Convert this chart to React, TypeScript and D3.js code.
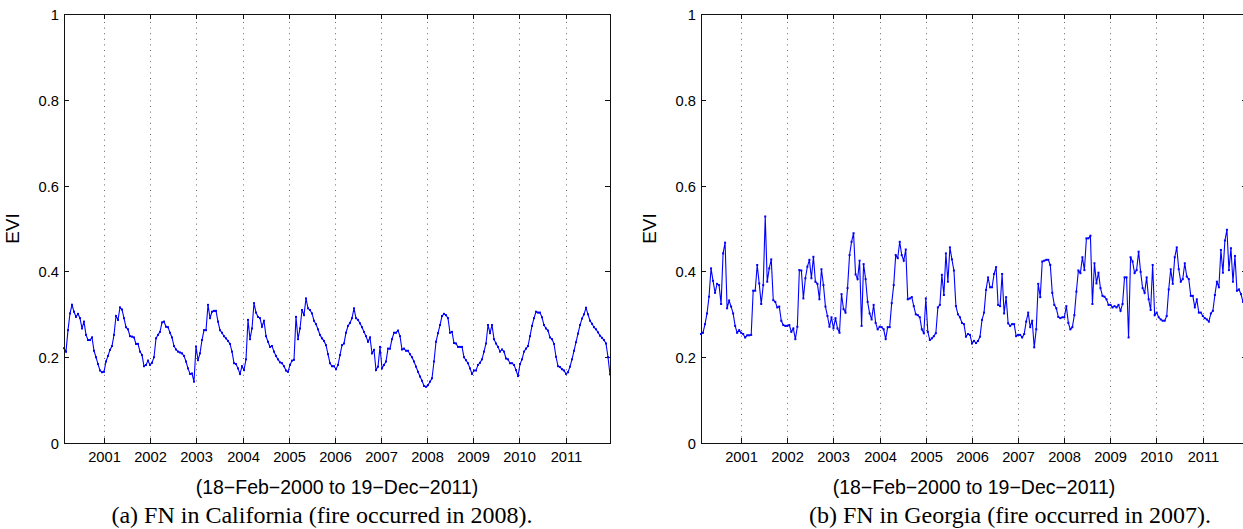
import React from "react";
import * as d3 from "d3";

// MODIS 16-day EVI composites, 18-Feb-2000 .. 19-Dec-2011
const startDate = new Date(Date.UTC(2000, 1, 18));
const endDate = new Date(Date.UTC(2011, 11, 19));

const yearTicks = [2001, 2002, 2003, 2004, 2005, 2006, 2007, 2008, 2009, 2010, 2011];
const yTicks = [0, 0.2, 0.4, 0.6, 0.8, 1];
const yTickLabels = ["0", "0.2", "0.4", "0.6", "0.8", "1"];
const rangeLabel = "(18\u2212Feb\u22122000 to 19\u2212Dec\u22122011)";
const yLabel = "EVI";

const californiaEvi = [
  0.221, 0.213, 0.263, 0.302, 0.322, 0.306, 0.294, 0.301, 0.291, 0.267,
  0.283, 0.252, 0.24, 0.24, 0.246, 0.215, 0.2, 0.184, 0.169, 0.165,
  0.166, 0.19, 0.203, 0.217, 0.226, 0.252, 0.296, 0.287, 0.316, 0.311,
  0.291, 0.27, 0.265, 0.249, 0.248, 0.246, 0.231, 0.231, 0.213, 0.205,
  0.179, 0.182, 0.192, 0.182, 0.187, 0.2, 0.244, 0.252, 0.259, 0.281,
  0.283, 0.271, 0.27, 0.257, 0.246, 0.226, 0.218, 0.213, 0.211, 0.209,
  0.203, 0.19, 0.174, 0.161, 0.162, 0.143, 0.225, 0.193, 0.209, 0.24,
  0.263, 0.263, 0.322, 0.291, 0.306, 0.308, 0.308, 0.283, 0.263, 0.257,
  0.249, 0.244, 0.238, 0.231, 0.213, 0.186, 0.184, 0.174, 0.161, 0.179,
  0.17, 0.195, 0.287, 0.242, 0.267, 0.326, 0.304, 0.294, 0.291, 0.271,
  0.285, 0.249, 0.236, 0.224, 0.226, 0.213, 0.203, 0.195, 0.188, 0.186,
  0.179, 0.169, 0.166, 0.182, 0.192, 0.194, 0.294, 0.242, 0.267, 0.31,
  0.298, 0.337, 0.314, 0.31, 0.302, 0.285, 0.277,
  0.265, 0.252, 0.244, 0.238, 0.228, 0.207, 0.186, 0.179, 0.179, 0.172,
  0.182, 0.205, 0.228, 0.232, 0.257, 0.273, 0.28, 0.291, 0.314, 0.291,
  0.287, 0.279, 0.27, 0.259, 0.249, 0.236, 0.246, 0.209, 0.217, 0.17,
  0.178, 0.224, 0.174, 0.182, 0.19, 0.22, 0.22, 0.242, 0.257, 0.257,
  0.262, 0.249, 0.218, 0.22, 0.215, 0.215, 0.207, 0.2, 0.19, 0.178,
  0.166, 0.155, 0.145, 0.133, 0.131, 0.135, 0.143, 0.151, 0.19, 0.236,
  0.256, 0.275, 0.296, 0.301, 0.298, 0.291, 0.257, 0.259, 0.233, 0.232,
  0.224, 0.224, 0.224, 0.2, 0.193, 0.186, 0.174, 0.161, 0.169, 0.169,
  0.182, 0.187, 0.195, 0.213, 0.232, 0.275, 0.256, 0.275, 0.242, 0.232,
  0.224, 0.213, 0.218, 0.213, 0.197, 0.195, 0.186, 0.186, 0.182, 0.17,
  0.156, 0.184, 0.195, 0.213, 0.22, 0.226, 0.249, 0.273, 0.291, 0.306,
  0.304, 0.304, 0.293, 0.275, 0.267, 0.262, 0.246, 0.242, 0.231, 0.201,
  0.179, 0.177, 0.172, 0.169, 0.161,
  0.165, 0.178, 0.195, 0.215, 0.235, 0.255, 0.275, 0.29, 0.3, 0.315,
  0.3, 0.285, 0.278, 0.27, 0.265, 0.258, 0.25, 0.245, 0.24, 0.232,
  0.2, 0.16,
];

const georgiaEvi = [
  0.254, 0.257, 0.277, 0.302, 0.341, 0.407, 0.378, 0.35, 0.371, 0.368,
  0.324, 0.442, 0.467, 0.314, 0.332, 0.318, 0.302, 0.273, 0.257, 0.263,
  0.257, 0.254, 0.246, 0.251, 0.251, 0.252, 0.355, 0.355, 0.415, 0.372,
  0.324, 0.368, 0.528, 0.376, 0.407, 0.428, 0.333, 0.329, 0.316, 0.318,
  0.285, 0.275, 0.273, 0.273, 0.275, 0.259, 0.267, 0.242, 0.271, 0.403,
  0.402, 0.337, 0.384, 0.411, 0.427, 0.384, 0.434, 0.376, 0.371, 0.335,
  0.405, 0.368, 0.318, 0.296, 0.271, 0.293, 0.267, 0.291, 0.267, 0.257,
  0.347, 0.312, 0.304, 0.361, 0.438, 0.469, 0.489, 0.393, 0.382, 0.425,
  0.273, 0.417, 0.382, 0.329, 0.302, 0.288, 0.322, 0.28, 0.265, 0.271,
  0.27, 0.265, 0.242, 0.27, 0.27, 0.326, 0.368, 0.438, 0.431, 0.469,
  0.438, 0.425, 0.451, 0.335, 0.337, 0.34, 0.319, 0.3, 0.298, 0.293,
  0.265, 0.256, 0.337, 0.259, 0.24, 0.244, 0.249, 0.256, 0.316, 0.322,
  0.392, 0.345, 0.442, 0.376, 0.456, 0.428, 0.402, 0.319, 0.3, 0.293,
  0.28, 0.277, 0.248, 0.254, 0.252, 0.232, 0.238, 0.233,
  0.238, 0.248, 0.287, 0.304, 0.357, 0.386, 0.363, 0.363, 0.394, 0.41,
  0.322, 0.319, 0.394, 0.302, 0.34, 0.279, 0.273, 0.277, 0.277, 0.249,
  0.252, 0.252, 0.246, 0.254, 0.283, 0.304, 0.27, 0.285, 0.223, 0.265,
  0.371, 0.34, 0.423, 0.425, 0.427, 0.427, 0.415, 0.35, 0.322, 0.314,
  0.294, 0.291, 0.293, 0.293, 0.319, 0.28, 0.265, 0.27, 0.298, 0.353,
  0.402, 0.396, 0.433, 0.403, 0.477, 0.477, 0.483, 0.324, 0.419, 0.372,
  0.397, 0.361, 0.343, 0.341, 0.335, 0.322, 0.322, 0.316, 0.319, 0.316,
  0.322, 0.308, 0.324, 0.386, 0.386, 0.246, 0.433, 0.423, 0.396, 0.403,
  0.446, 0.399, 0.361, 0.35, 0.386, 0.335, 0.31, 0.415, 0.298, 0.304,
  0.293, 0.288, 0.285, 0.285, 0.296, 0.358, 0.405, 0.371, 0.433, 0.456,
  0.405, 0.376, 0.382, 0.419, 0.388, 0.382, 0.343, 0.343, 0.316, 0.335,
  0.304, 0.304, 0.296, 0.291, 0.288, 0.283, 0.302, 0.308, 0.345, 0.376,
  0.363, 0.45, 0.397, 0.472, 0.497, 0.403, 0.454, 0.376, 0.436, 0.355,
  0.358, 0.347, 0.329, 0.332, 0.328,
];

const captions = [
  "(a) FN in California (fire occurred in 2008).",
  "(b) FN in Georgia (fire occurred in 2007).",
];

const W = 1243;
const H = 529;
const plotW = 546;
const top = 14;
const bottom = 443;
const sans = "'Liberation Sans', Arial, Helvetica, sans-serif";
const serif = "'Liberation Serif', 'Times New Roman', serif";

function Panel(props: { left: number; values: number[]; caption: string; captionX: number }) {
  const { left, values, caption, captionX } = props;
  const x = d3.scaleUtc().domain([startDate, endDate]).range([left, left + plotW]);
  const y = d3.scaleLinear().domain([0, 1]).range([bottom, top]);
  const step = (endDate.getTime() - startDate.getTime()) / (values.length - 1);
  const pts = values.map((v, i) => ({ d: new Date(startDate.getTime() + i * step), v }));
  const line = d3
    .line<{ d: Date; v: number }>()
    .x((p) => x(p.d))
    .y((p) => y(p.v));
  const right = left + plotW;
  const midX = left + plotW / 2;

  return (
    <g>
      {yearTicks.map((yr) => {
        const xx = Math.round(x(new Date(Date.UTC(yr, 0, 1)))) + 0.5;
        return (
          <g key={yr}>
            <line x1={xx} x2={xx} y1={bottom} y2={top} stroke="#555" strokeWidth={0.9} strokeDasharray="1 4.6" />
            <line x1={xx} x2={xx} y1={bottom} y2={bottom - 5} stroke="#111" />
            <line x1={xx} x2={xx} y1={top} y2={top + 5} stroke="#111" />
            <text x={xx} y={462} fontFamily={sans} fontSize={14.7} textAnchor="middle">
              {yr}
            </text>
          </g>
        );
      })}
      {yTicks.map((t, i) => {
        const yy = Math.round(y(t)) + 0.5;
        return (
          <g key={t}>
            <line x1={left} x2={left + 5} y1={yy} y2={yy} stroke="#111" />
            <line x1={right} x2={right - 5} y1={yy} y2={yy} stroke="#111" />
            <text x={left - 5} y={yy + 5} fontFamily={sans} fontSize={14.7} textAnchor="end">
              {yTickLabels[i]}
            </text>
          </g>
        );
      })}
      <path d={line(pts) || ""} fill="none" stroke="#0000ff" strokeWidth={1.1} />
      {pts.map((p, i) => (
        <rect key={i} x={x(p.d) - 1} y={y(p.v) - 1} width={2} height={2} fill="#0000ff" />
      ))}
      <rect x={left + 0.5} y={top + 0.5} width={plotW} height={bottom - top} fill="none" stroke="#111" strokeWidth={1} />
      <text
        transform={`translate(${left - 45},${(top + bottom) / 2}) rotate(-90)`}
        fontFamily={sans}
        fontSize={19}
        textAnchor="middle"
      >
        {yLabel}
      </text>
      <text x={midX} y={494} fontFamily={sans} fontSize={19.5} textAnchor="middle">
        {rangeLabel}
      </text>
      <text x={captionX} y={523} fontFamily={serif} fontSize={24} textAnchor="middle">
        {caption}
      </text>
    </g>
  );
}

export default function App() {
  return (
    <svg
      width={W}
      height={H}
      style={{ position: "absolute", left: 0, top: 0, background: "#fff" }}
    >
      <rect width={W} height={H} fill="#fff" />
      <Panel left={64} values={californiaEvi} caption={captions[0]} captionX={322} />
      <Panel left={701} values={georgiaEvi} caption={captions[1]} captionX={1010} />
    </svg>
  );
}
